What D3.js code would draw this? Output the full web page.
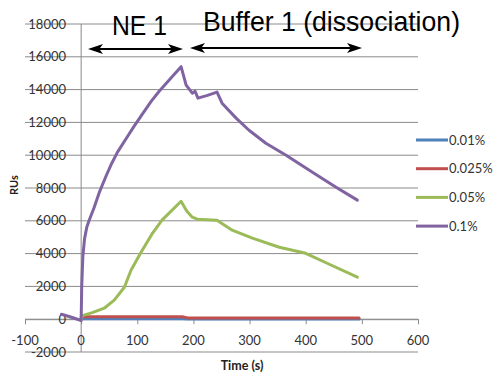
<!DOCTYPE html>
<html><head><meta charset="utf-8">
<script src="https://cdn.jsdelivr.net/npm/d3@7"></script>
<style>body{margin:0;background:#fff}svg{display:block}</style>
</head><body>
<svg id="c" width="498" height="376"></svg>
<script>
// ---- data ----
const seriesNames = ["0.01%", "0.025%", "0.05%", "0.1%"];
const seriesColors = ["#4F81BD", "#C0504D", "#9BBB59", "#8064A2"];
const xTicks = [-100, 0, 100, 200, 300, 400, 500, 600];
const yTicks = [-2000, 0, 2000, 4000, 6000, 8000, 10000, 12000, 14000, 16000, 18000];

const blueTime = [0, 180, 190, 495];
const blueVals = [20, 20, 10, 10];
const redTime = [0, 180, 190, 495];
const redVals = [150, 150, 80, 70];
const greenTime = [0, 2, 5, 20, 41, 59, 77, 89, 107, 127, 144, 178, 188, 198, 207, 242, 269, 305, 353, 400, 442, 492];
const greenVals = [0, 200, 250, 400, 670, 1160, 1950, 3000, 4100, 5240, 6040, 7190, 6600, 6220, 6100, 6040, 5430, 4940, 4390, 4020, 3350, 2560];
const purpleTime = [-35, -20, 0, 1, 3, 6, 10, 14, 23, 32, 44, 53, 65, 80, 95, 109, 125, 139, 160, 178, 187, 198, 203, 208, 225, 242, 251, 276, 299, 329, 365, 412, 454, 492];
const purpleVals = [300, 150, -80, 2000, 3800, 4900, 5600, 6000, 6800, 7700, 8700, 9400, 10200, 11000, 11800, 12500, 13300, 13900, 14700, 15400, 14270, 13780, 13900, 13480, 13650, 13850, 13170, 12260, 11520, 10730, 10000, 8960, 8050, 7260];

const seriesTimes = [blueTime, redTime, greenTime, purpleTime];
const seriesVals = [blueVals, redVals, greenVals, purpleVals];

// ---- drawing ----
const svg = d3.select("#c");
const x = d3.scaleLinear().domain([-100, 600]).range([25, 418]);
const y = d3.scaleLinear().domain([-2000, 18000]).range([352, 24]);
const gridColor = "#8a8a8a";
const font = "Lato, 'Open Sans', sans-serif";

// gridlines
svg.append("g").selectAll("line").data(yTicks).join("line")
  .attr("x1", x(-100)).attr("x2", x(600))
  .attr("y1", d => y(d)).attr("y2", d => y(d))
  .attr("stroke", gridColor).attr("stroke-width", 1);

// y axis line at x = 0
svg.append("line").attr("x1", x(0)).attr("x2", x(0))
  .attr("y1", y(18000)).attr("y2", y(-2000))
  .attr("stroke", gridColor).attr("stroke-width", 1);

// x axis at y = 0 with ticks
const xAxis = d3.axisBottom(x).tickValues(xTicks).tickSize(5).tickFormat("");
const gx = svg.append("g").attr("transform", `translate(0,${y(0)})`).call(xAxis);
gx.select(".domain").attr("stroke", gridColor);
gx.selectAll(".tick line").attr("stroke", gridColor);

// x tick labels
svg.append("g").selectAll("text").data(xTicks).join("text")
  .attr("x", d => x(d)).attr("y", 345)
  .attr("text-anchor", "middle")
  .attr("font-family", font).attr("font-size", 13).attr("fill", "#333")
  .text(d => d);

// y tick labels
svg.append("g").selectAll("text").data(yTicks).join("text")
  .attr("x", 66).attr("y", d => y(d)).attr("dy", "0.35em")
  .attr("text-anchor", "end")
  .attr("font-family", font).attr("font-size", 13).attr("fill", "#333")
  .text(d => d);

// axis titles
svg.append("text").attr("transform", "translate(18,185) rotate(-90)")
  .attr("text-anchor", "middle").attr("font-family", font)
  .attr("font-weight", "bold").attr("font-size", 11).attr("fill", "#222").text("RUs");
svg.append("text").attr("x", 242).attr("y", 370)
  .attr("text-anchor", "middle").attr("font-family", font)
  .attr("font-weight", "bold").attr("font-size", 12.5).attr("fill", "#222").text("Time (s)");

// series lines
const line = d3.line().x(d => x(d[0])).y(d => y(d[1]));
seriesNames.forEach((name, i) => {
  const pts = seriesTimes[i].map((t, j) => [t, seriesVals[i][j]]);
  svg.append("path").datum(pts)
    .attr("d", line).attr("fill", "none")
    .attr("stroke", seriesColors[i]).attr("stroke-width", 3)
    .attr("stroke-linejoin", "round").attr("stroke-linecap", "round");
});

// legend
const lg = svg.append("g");
seriesNames.forEach((name, i) => {
  const ly = 140 + i * 28.7;
  lg.append("line").attr("x1", 416).attr("x2", 448).attr("y1", ly).attr("y2", ly)
    .attr("stroke", seriesColors[i]).attr("stroke-width", 3);
  lg.append("text").attr("x", 449).attr("y", ly).attr("dy", "0.35em")
    .attr("font-family", font).attr("font-size", 13).attr("fill", "#333").text(name);
});

// annotations
const tfont = "'Liberation Sans', Arial, sans-serif";
svg.append("text").attr("x", 112).attr("y", 35)
  .attr("font-family", tfont).attr("font-size", 28)
  .attr("textLength", 55).attr("lengthAdjust", "spacingAndGlyphs").text("NE 1");
svg.append("text").attr("x", 203).attr("y", 31)
  .attr("font-family", tfont).attr("font-size", 28)
  .attr("textLength", 257).attr("lengthAdjust", "spacingAndGlyphs").text("Buffer 1 (dissociation)");

function arrowHead(xTip, yv, dir) {
  const len = 15, hw = 5;
  svg.append("path")
    .attr("d", `M${xTip},${yv} L${xTip - dir * len},${yv - hw} L${xTip - dir * len * 0.75},${yv} L${xTip - dir * len},${yv + hw} Z`)
    .attr("fill", "#000");
}
// NE 1 arrow (double)
svg.append("line").attr("x1", 92).attr("x2", 179).attr("y1", 49).attr("y2", 49)
  .attr("stroke", "#000").attr("stroke-width", 2);
arrowHead(88, 49, -1);
arrowHead(183, 49, 1);
// Buffer arrow (double)
svg.append("line").attr("x1", 194).attr("x2", 358).attr("y1", 48).attr("y2", 48)
  .attr("stroke", "#000").attr("stroke-width", 2);
arrowHead(190, 48, -1);
arrowHead(362, 48, 1);
</script>
</body></html>
